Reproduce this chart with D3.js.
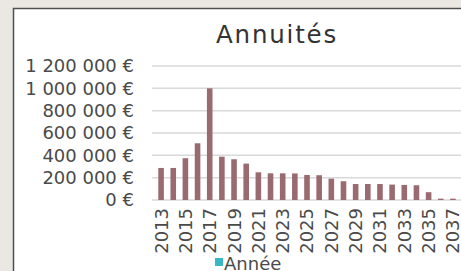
<!DOCTYPE html>
<html>
<head>
<meta charset="utf-8">
<script src="https://cdn.jsdelivr.net/npm/d3@7"></script>
<style>
  body { margin: 0; background: #ebe8e3; }
  svg { display: block; }
</style>
</head>
<body>
<svg id="chart" width="461" height="271"></svg>
<script>
// data
var years = d3.range(2013, 2038).map(String);
var annuites = [287000, 287000, 374000, 508000, 1000000, 388000, 365000, 326000,
  248000, 239000, 239000, 238000, 224000, 222000, 191000, 168000,
  143000, 143000, 143000, 138000, 135000, 132000, 70000, 12000, 12000];
var yTicks = [0, 200000, 400000, 600000, 800000, 1000000, 1200000];
var seriesName = "Année";
var titleText = "Annuités";

var svg = d3.select("#chart");
var font = "DejaVu Sans";

// white panel with the dark frame on left/top
svg.append("rect").attr("x", 13.5).attr("y", 8.5).attr("width", 460).attr("height", 270)
  .attr("fill", "#fff").attr("stroke", "#505050").attr("stroke-width", 1.5);

var x = d3.scaleBand().domain(years).range([155, 459]).paddingInner(0.54).paddingOuter(0.27);
var y = d3.scaleLinear().domain([0, 1200000]).range([200, 66]);

var fmt = function(v) {
  return d3.format(",")(v).replace(/,/g, " ") + " €";
};

// grid
svg.append("g").selectAll("line").data(yTicks).enter().append("line")
  .attr("x1", 152).attr("x2", 461)
  .attr("y1", function(d) { return y(d); })
  .attr("y2", function(d) { return y(d); })
  .attr("stroke", "#d9d9d9").attr("stroke-width", 1.5);

// y labels
svg.append("g").selectAll("text").data(yTicks).enter().append("text")
  .attr("x", 134)
  .attr("y", function(d) { return y(d); })
  .attr("dy", "0.36em")
  .attr("text-anchor", "end")
  .attr("font-family", font).attr("font-size", 18)
  .attr("fill", "#4a4a4a")
  .text(fmt);

// bars
svg.append("g").selectAll("rect").data(annuites).enter().append("rect")
  .attr("x", function(d, i) { return x(years[i]); })
  .attr("width", x.bandwidth())
  .attr("y", function(d) { return y(d); })
  .attr("height", function(d) { return y(0) - y(d); })
  .attr("fill", "#9a6a71");

// x labels, every other year, rotated
svg.append("g").selectAll("text").data(years.filter(function(d, i) { return i % 2 == 0; }))
  .enter().append("text")
  .attr("transform", function(d) {
    return "translate(" + (x(d) + x.bandwidth() / 2) + ",208) rotate(-90)";
  })
  .attr("dy", "0.36em")
  .attr("text-anchor", "end")
  .attr("font-family", font).attr("font-size", 18)
  .attr("fill", "#4a4a4a")
  .text(function(d) { return d; });

// legend
svg.append("rect").attr("x", 215).attr("y", 258).attr("width", 8).attr("height", 8)
  .attr("fill", "#38b8c6");
svg.append("text").attr("x", 224).attr("y", 270)
  .attr("font-family", font).attr("font-size", 18)
  .attr("fill", "#4a4a4a").text(seriesName);

// title
svg.append("text").attr("x", 277).attr("y", 43)
  .attr("text-anchor", "middle")
  .attr("font-family", font).attr("font-size", 24.5)
  .attr("letter-spacing", 1.8)
  .attr("fill", "#333").text(titleText);
</script>
</body>
</html>
